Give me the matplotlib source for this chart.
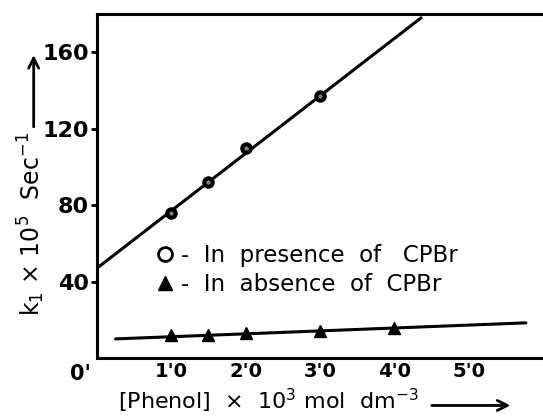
import matplotlib
matplotlib.use("Agg")
import matplotlib.pyplot as plt
from matplotlib.lines import Line2D

# phenol concentration x 10^3 (mol dm^-3)
phenol_cpbr = [1.0, 1.5, 2.0, 3.0]
k1_cpbr = [76, 92, 110, 137]

phenol_nocpbr = [1.0, 1.5, 2.0, 3.0, 4.0]
k1_nocpbr = [12, 12, 13, 14, 15.5]

# hand drawn best fit lines (end points)
fit_cpbr_x = [0.0, 4.36]
fit_cpbr_y = [47, 178]
fit_nocpbr_x = [0.25, 5.77]
fit_nocpbr_y = [10, 18.4]

xticks = [1, 2, 3, 4, 5]
xticklabels = ["1'0", "2'0", "3'0", "4'0", "5'0"]
yticks = [40, 80, 120, 160]

plt.rcParams['font.family'] = ['DejaVu Sans']

fig = plt.figure(figsize=(5.43, 4.18), dpi=100)
ax = fig.add_axes([0.1786, 0.1435, 0.8214, 0.823])

ax.plot(fit_cpbr_x, fit_cpbr_y, color='k', lw=2.2, solid_capstyle='round')
ax.plot(fit_nocpbr_x, fit_nocpbr_y, color='k', lw=2.2, solid_capstyle='round')

ax.plot(phenol_cpbr, k1_cpbr, linestyle='none', marker='o', ms=8,
        mfc='k', mec='k')
ax.plot(phenol_cpbr, k1_cpbr, linestyle='none', marker='o', ms=2,
        mfc='0.5', mec='0.5')
ax.plot(phenol_nocpbr, k1_nocpbr, linestyle='none', marker='^', ms=9,
        mfc='k', mec='k')

ax.set_xlim(0, 6)
ax.set_ylim(0, 180)

ax.spines['right'].set_visible(False)
for s in ['left', 'bottom', 'top']:
    ax.spines[s].set_linewidth(2.2)

ax.set_xticks(xticks)
ax.set_xticklabels(xticklabels, fontsize=14, fontweight='bold')
ax.tick_params(axis='x', length=0, pad=3)
ax.set_yticks(yticks)
ax.set_yticklabels([str(v) for v in yticks], fontsize=16, fontweight='bold')
ax.tick_params(axis='y', length=4, width=2, direction='out', pad=2)
ax.text(-0.08, -3, "0'", ha='right', va='top', fontsize=15, fontweight='bold')

handles = [
    Line2D([], [], linestyle='none', marker='o', ms=10, mfc='white', mec='k', mew=2),
    Line2D([], [], linestyle='none', marker='^', ms=10, mfc='k', mec='k'),
]
ax.legend(handles, ["-  In  presence  of   CPBr", "-  In  absence  of  CPBr"],
          loc='upper left', bbox_to_anchor=(0.08, 0.39), frameon=False,
          fontsize=16.5, handletextpad=0.2, labelspacing=0.25, handlelength=1.0)

# axis labels with arrows
fig.text(0.057, 0.465, r"k$_1$ $\times$ 10$^5$  Sec$^{-1}$", rotation=90,
         ha='center', va='center', fontsize=17)
ax.annotate("", xy=(0.062, 0.875), xytext=(0.062, 0.69), xycoords='figure fraction',
            textcoords='figure fraction', annotation_clip=False,
            arrowprops=dict(arrowstyle='->', lw=2, color='k', mutation_scale=18))
fig.text(0.494, 0.04, r"[Phenol]  $\times$  10$^3$ mol  dm$^{-3}$",
         ha='center', va='center', fontsize=16)
ax.annotate("", xy=(0.945, 0.03), xytext=(0.79, 0.03), xycoords='figure fraction',
            textcoords='figure fraction', annotation_clip=False,
            arrowprops=dict(arrowstyle='->', lw=2, color='k', mutation_scale=18))

fig.savefig("out.png", dpi=100)
